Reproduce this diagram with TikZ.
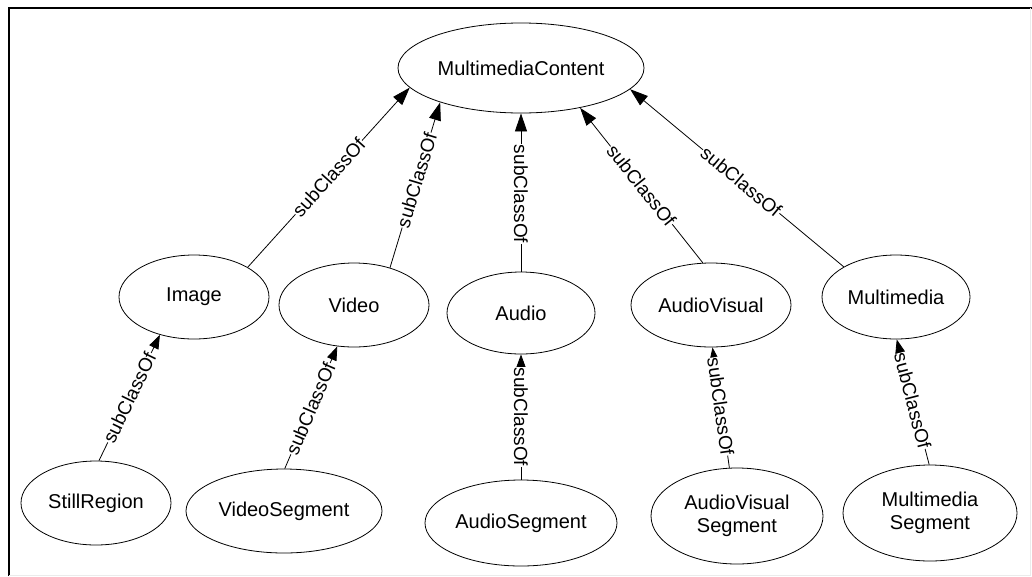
\documentclass[tikz,border=0pt]{standalone}
\usepackage{fontspec}
\setmainfont{Liberation Sans}
\usetikzlibrary{shapes.geometric,arrows.meta}
\begin{document}
\begin{tikzpicture}[x=1pt,y=-1pt,
  cls/.style={draw,ellipse,line width=0.8pt,inner sep=0pt,align=center,
    font=\fontsize{20}{23}\selectfont},
  edge/.style={draw,line width=0.8pt,-{Triangle[length=18pt,width=12pt]}},
  edgesmall/.style={draw,line width=0.8pt,-{Triangle[length=14pt,width=10pt]}},
  lbl/.style={fill=white,inner sep=0.5pt,font=\fontsize{19}{21}\selectfont}]
\useasboundingbox (0,0) rectangle (1032,576);
\fill[white] (0,0) rectangle (1032,576);
\draw[line width=2pt] (9,576) -- (9,7.5) -- (1032,7.5);
\draw[line width=1pt,black!8] (1030.5,7.5) -- (1030.5,575.5) -- (9,575.5);

\node[cls,minimum width=246pt,minimum height=90pt] (mc) at (521,68) {MultimediaContent};
\node[cls,minimum width=150pt,minimum height=84pt] (img) at (194,297) {Image};
\node[cls,minimum width=150pt,minimum height=84pt] (vid) at (354,305) {Video};
\node[cls,minimum width=148pt,minimum height=82pt] (aud) at (521,313) {Audio};
\node[cls,minimum width=160pt,minimum height=84pt] (av) at (711,305) {AudioVisual};
\node[cls,minimum width=148pt,minimum height=84pt] (mm) at (896,297) {Multimedia};
\node[cls,minimum width=150pt,minimum height=84pt] (sr) at (96,503) {StillRegion};
\node[cls,minimum width=196pt,minimum height=84pt] (vs) at (284,511) {VideoSegment};
\node[cls,minimum width=192pt,minimum height=86pt] (as) at (521,523) {AudioSegment};
\node[cls,minimum width=172pt,minimum height=96pt] (avs) at (737,516) {AudioVisual\\Segment};
\node[cls,minimum width=174pt,minimum height=96pt] (mms) at (930,513) {Multimedia\\Segment};

\draw[edge] (img.29) -- node[lbl,sloped,pos=0.5]{subClassOf} (mc.190);
\draw[edge] (vid.46) -- node[lbl,sloped,pos=0.53]{subClassOf} (mc.203);
\draw[edge] (aud.90) -- node[lbl,rotate=-90,pos=0.49]{subClassOf} (mc.270);
\draw[edge] (av.101) -- node[lbl,sloped,pos=0.5]{subClassOf} (mc.326);
\draw[edge] (mm.150) -- node[lbl,sloped,pos=0.48]{subClassOf} (mc.349);

\draw[edgesmall] (sr.86) -- node[lbl,sloped,pos=0.5]{subClassOf} (img.228);
\draw[edgesmall] (vs.89) -- node[lbl,sloped,pos=0.49]{subClassOf} (vid.248);
\draw[edgesmall] (as.90) -- node[lbl,rotate=-90,pos=0.5]{subClassOf} (aud.270);
\draw[edgesmall] (avs.99) -- node[lbl,sloped,pos=0.51]{subClassOf} (av.272);
\draw[edgesmall] (mms.91) -- node[lbl,sloped,pos=0.51]{subClassOf} (mm.271);
\end{tikzpicture}
\end{document}
